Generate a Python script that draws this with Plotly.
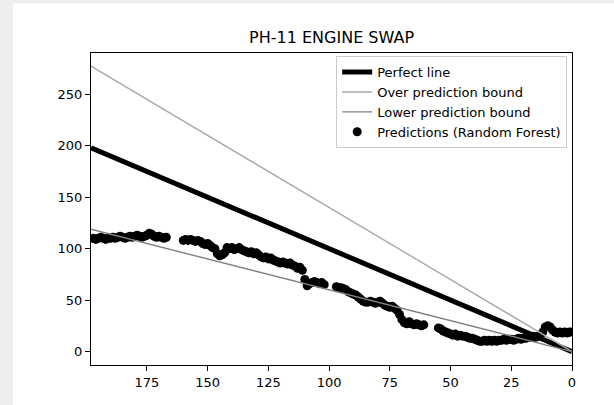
import plotly.graph_objects as go

# ---- data ----
title = "PH-11 ENGINE SWAP"
line_x = [0, 198]
perfect_y = [0, 198]
over_y = [0, 277.2]
lower_y = [0, 118.8]

pred_x = list(range(197, -1, -1))
pred_y = [
    110, 109, 110, 111, 110, 109, 110, 110, 111, 110,          # 197..188
    111, 112, 111, 110, 111, 112, 111,                         # 187..181
    112, 113, 112, 111, 112, 113, 115, 114, 112,               # 180..172
    111, 112, 111, 110, 111,                                   # 171..167
    None, None, None, None, None, None,                        # 166..161
    108, 109, 108, 109, 108, 107, 108, 107,                    # 160..153
    105, 104, 105, 103, 101, 100,                              # 152..147
    95, 93, 94, 96,                                            # 146..143
    101, 100, 101, 99, 100, 101, 99, 98,                       # 142..135
    97, 96, 97, 95, 96, 94,                                    # 134..129
    92, 91, 92, 90, 91, 89, 88,                                # 128..122
    87, 86, 87, 86, 85, 86, 84,                                # 121..115
    83, 81, 82, 79,                                            # 114..111
    70, 64,                                                    # 110..109
    66, 67, 68, 67, 66, 67, 65,                                # 108..102
    None, None, None, None,                                    # 101..98
    63, 62, 62, 61, 60, 58,                                    # 97..92
    57, 56, 55, 53, 51, 49, 48,                                # 91..85
    48, 49, 48, 47, 48, 49, 47,                                # 84..78
    45, 44, 43, 44,                                            # 77..74
    42, 40, 36,                                                # 73..71
    31, 28, 27, 29,                                            # 70..67
    27, 26, 27, 26, 25, 26,                                    # 66..61
    None, None, None, None, None,                              # 60..56
    23, 22, 20, 19, 18,                                        # 55..51
    17, 16, 17, 15, 16, 15,                                    # 50..45
    15, 14, 13, 13, 12, 11, 10,                                # 44..38
    10, 11, 10, 11, 10, 11, 10, 11,                            # 37..30
    11, 12, 11, 12, 12, 11, 12, 13,                            # 29..22
    12, 13, 13, 14, 14, 15, 14, 15,                            # 21..14
    16, 19, 24, 25,                                            # 13..10
    24, 21, 19,                                                # 9..7
    18, 19, 18, 19, 18, 19, 19,                                # 6..0
]

x_ticks = [175, 150, 125, 100, 75, 50, 25, 0]
y_ticks = [0, 50, 100, 150, 200, 250]

# ---- figure ----
fig = go.Figure()
fig.add_trace(go.Scatter(x=pred_x, y=pred_y, mode="markers", name="Predictions (Random Forest)",
                         marker=dict(color="black", size=9, line=dict(width=0)), legendrank=4))
fig.add_trace(go.Scatter(x=line_x, y=perfect_y, mode="lines", name="Perfect line",
                         line=dict(color="black", width=5), legendrank=1))
fig.add_trace(go.Scatter(x=line_x, y=over_y, mode="lines", name="Over prediction bound",
                         line=dict(color="#a9a9a9", width=1.4), legendrank=2))
fig.add_trace(go.Scatter(x=line_x, y=lower_y, mode="lines", name="Lower prediction bound",
                         line=dict(color="#808080", width=1.4), legendrank=3))

axis_common = dict(showline=True, linecolor="black", linewidth=1, mirror=True,
                   ticks="outside", ticklen=5, tickcolor="black", tickwidth=1,
                   showgrid=False, zeroline=False,
                   tickfont=dict(family="DejaVu Sans", size=13, color="black"))

fig.update_xaxes(range=[198, 0], tickvals=x_ticks, **axis_common)
fig.update_yaxes(range=[-13, 290], tickvals=y_ticks, **axis_common)

fig.update_layout(
    width=614, height=405,
    margin=dict(l=91, r=42, t=53, b=40),
    paper_bgcolor="white", plot_bgcolor="white",
    font=dict(family="DejaVu Sans", size=13, color="black"),
    title=dict(text=title, x=0.54, xanchor="center", y=1 - 37 / 405, yanchor="middle",
               font=dict(family="DejaVu Sans", size=16, color="black")),
    legend=dict(x=0.99, y=0.99, xanchor="right", yanchor="top",
                bgcolor="rgba(255,255,255,0.8)", bordercolor="#cccccc", borderwidth=1,
                font=dict(family="DejaVu Sans", size=13, color="black"),
                traceorder="normal"),
    showlegend=True,
    shapes=[
        dict(type="rect", xref="paper", yref="paper", x0=-0.3, x1=(13 - 91) / 481,
             y0=-0.3, y1=1.3, fillcolor="#eeeeee", line=dict(width=0), layer="below"),
        dict(type="rect", xref="paper", yref="paper", x0=-0.3, x1=1.3,
             y0=(365 - 3) / 312.3, y1=1.3, fillcolor="#eeeeee", line=dict(width=0), layer="below"),
    ],
)

fig.write_html(
    "out.html",
    config={"displayModeBar": False},
    post_script="document.body.style.margin='0';document.body.style.padding='0';"
                "document.body.style.overflow='hidden';"
                "document.documentElement.style.overflow='hidden';",
)
